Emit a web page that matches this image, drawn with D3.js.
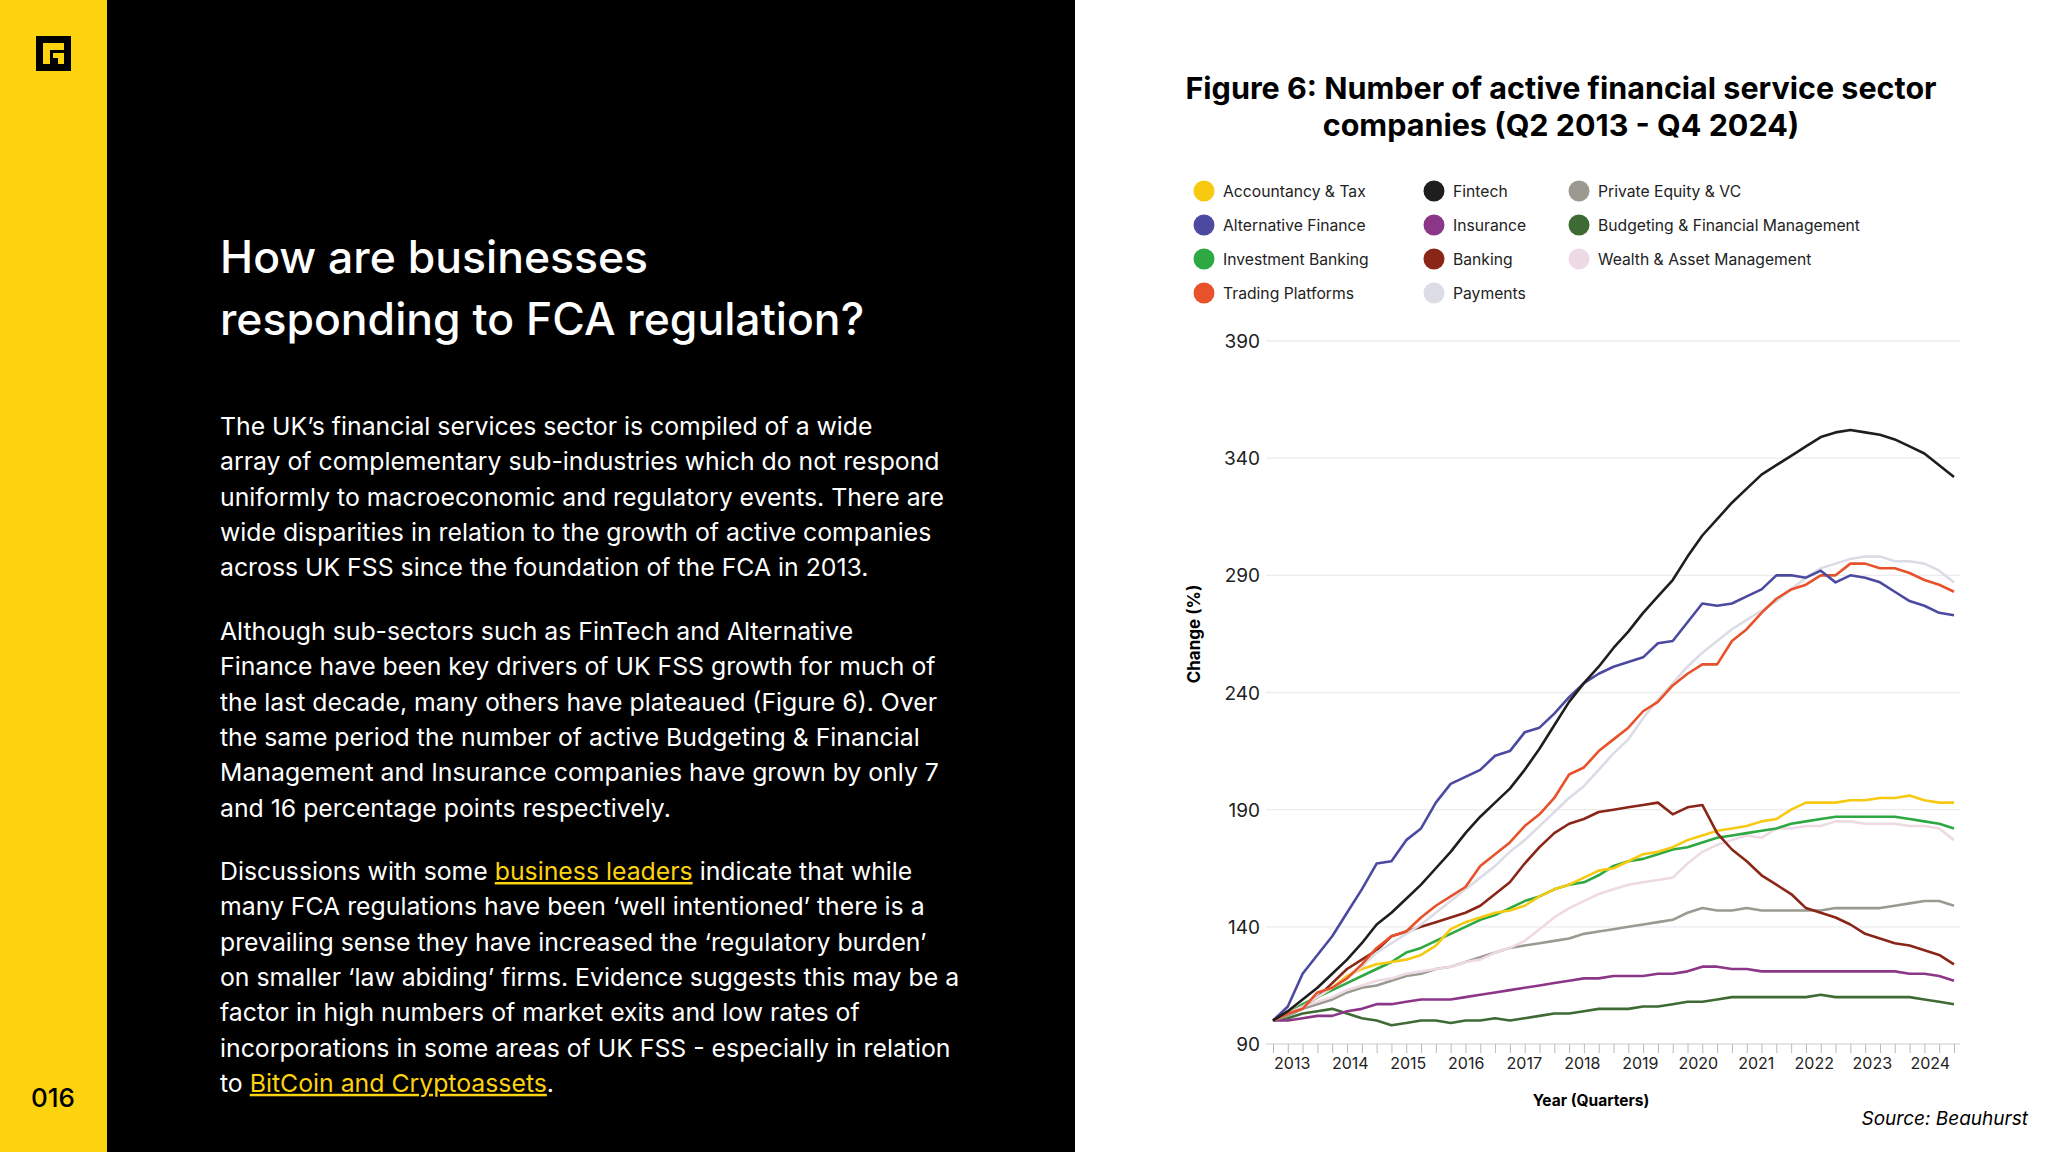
<!DOCTYPE html>
<html><head><meta charset="utf-8">
<script src="https://cdn.jsdelivr.net/npm/d3@7"></script>
<style>body{margin:0;background:#fff;font-family:Inter,"Noto Sans",sans-serif}</style>
</head><body>
<svg id="c" width="2048" height="1152"></svg>
<script>
const years=[2013,2014,2015,2016,2017,2018,2019,2020,2021,2022,2023,2024];
const yTicks=[90,140,190,240,290,340,390];
const accountancy=[100,103,106,110,114,119,122,124,125,126,128,132,139,142,144,146,147,149,153,156,158,161,164,165,168,171,172,174,177,179,181,182,183,185,186,190,193,193,193,194,194,195,195,196,194,193,193];
const altFinance=[100,106,120,128,136,146,156,167,168,177,182,193,201,204,207,213,215,223,225,231,238,244,248,251,253,255,261,262,270,278,277,278,281,284,290,290,289,292,287,290,289,287,283,279,277,274,273];
const investment=[100,103,107,110,113,116,119,122,125,129,131,134,137,140,143,145,148,151,153,156,158,159,162,166,168,169,171,173,174,176,178,179,180,181,182,184,185,186,187,187,187,187,187,186,185,184,182];
const trading=[100,103,105,112,114,118,124,131,136,138,144,149,153,157,166,171,176,183,188,195,205,208,215,220,225,232,236,243,248,252,252,262,267,274,280,284,286,290,290,295,295,293,293,291,288,286,283];
const fintech=[100,104,109,114,120,126,133,141,146,152,158,165,172,180,187,193,199,207,216,226,236,244,251,259,266,274,281,288,298,307,314,321,327,333,337,341,345,349,351,352,351,350,348,345,342,337,332];
const insurance=[100,100,101,102,102,104,105,107,107,108,109,109,109,110,111,112,113,114,115,116,117,118,118,119,119,119,120,120,121,123,123,122,122,121,121,121,121,121,121,121,121,121,121,120,120,119,117];
const banking=[100,103,106,110,116,122,126,130,136,138,140,142,144,146,149,154,159,167,174,180,184,186,189,190,191,192,193,188,191,192,180,173,168,162,158,154,148,146,144,141,137,135,133,132,130,128,124];
const payments=[100,103,106,110,114,118,123,129,133,137,141,146,151,156,161,166,172,177,183,189,195,200,207,214,220,229,237,244,251,257,262,267,271,275,279,284,289,293,295,297,298,298,296,296,295,292,287];
const privateEquity=[100,102,105,107,109,112,114,115,117,119,120,122,123,125,127,129,131,132,133,134,135,137,138,139,140,141,142,143,146,148,147,147,148,147,147,147,147,147,148,148,148,148,149,150,151,151,149];
const budgeting=[100,101,103,104,105,103,101,100,98,99,100,100,99,100,100,101,100,101,102,103,103,104,105,105,105,106,106,107,108,108,109,110,110,110,110,110,110,111,110,110,110,110,110,110,109,108,107];
const wealth=[100,103,106,108,110,113,115,117,118,120,121,122,123,125,126,129,131,134,139,144,148,151,154,156,158,159,160,161,167,172,175,177,179,178,182,182,183,183,185,185,184,184,184,183,183,182,177];

const series=[
 {name:"Accountancy & Tax",color:"#f7c910",v:accountancy,col:0,row:0},
 {name:"Alternative Finance",color:"#4b4aa0",v:altFinance,col:0,row:1},
 {name:"Investment Banking",color:"#2ea843",v:investment,col:0,row:2},
 {name:"Trading Platforms",color:"#e8522a",v:trading,col:0,row:3},
 {name:"Fintech",color:"#1e1e1e",v:fintech,col:1,row:0},
 {name:"Insurance",color:"#8c3688",v:insurance,col:1,row:1},
 {name:"Banking",color:"#8a2617",v:banking,col:1,row:2},
 {name:"Payments",color:"#dcdce6",v:payments,col:1,row:3},
 {name:"Private Equity & VC",color:"#9a9a90",v:privateEquity,col:2,row:0},
 {name:"Budgeting & Financial Management",color:"#3e6a34",v:budgeting,col:2,row:1},
 {name:"Wealth & Asset Management",color:"#eedae4",v:wealth,col:2,row:2}
];
const drawOrder=["Budgeting & Financial Management","Insurance","Private Equity & VC","Wealth & Asset Management","Investment Banking","Accountancy & Tax","Banking","Payments","Trading Platforms","Alternative Finance","Fintech"];

const svg=d3.select("#c");
svg.append("rect").attr("x",0).attr("y",0).attr("width",107).attr("height",1152).attr("fill","#fdd20e");
svg.append("rect").attr("x",107).attr("y",0).attr("width",968).attr("height",1152).attr("fill","#000");
const lg=svg.append("g").attr("transform","translate(36,36)");
lg.append("rect").attr("width",35).attr("height",35).attr("fill","#000");
lg.append("path").attr("d","M7 7H28V14H14V28H7Z M17 17H28V28H22V22H17Z").attr("fill","#fdd20e");
svg.append("text").attr("x",31).attr("y",1107).attr("font-size",26).attr("fill","#000").attr("font-weight",500).text("016");

const hd=svg.append("text").attr("fill","#fff").attr("font-size",44.5).attr("font-weight",500);
hd.append("tspan").attr("x",220).attr("y",273).text("How are businesses");
hd.append("tspan").attr("x",220).attr("y",335).text("responding to FCA regulation?");

const paras=[
 [435,["The UK’s financial services sector is compiled of a wide","array of complementary sub-industries which do not respond","uniformly to macroeconomic and regulatory events. There are","wide disparities in relation to the growth of active companies","across UK FSS since the foundation of the FCA in 2013."]],
 [640,["Although sub-sectors such as FinTech and Alternative","Finance have been key drivers of UK FSS growth for much of","the last decade, many others have plateaued (Figure 6). Over","the same period the number of active Budgeting & Financial","Management and Insurance companies have grown by only 7","and 16 percentage points respectively."]]
];
paras.forEach(([y0,lines])=>{
  lines.forEach((l,i)=>svg.append("text").attr("x",220).attr("y",y0+i*35.3).attr("fill","#fff").attr("font-size",24.8).text(l));
});
const p3y=880;
const p3=[
 [["Discussions with some ",null],["business leaders","link"],[" indicate that while",null]],
 [["many FCA regulations have been ‘well intentioned’ there is a",null]],
 [["prevailing sense they have increased the ‘regulatory burden’",null]],
 [["on smaller ‘law abiding’ firms. Evidence suggests this may be a",null]],
 [["factor in high numbers of market exits and low rates of",null]],
 [["incorporations in some areas of UK FSS - especially in relation",null]],
 [["to ",null],["BitCoin and Cryptoassets","link"],[".",null]]
];
p3.forEach((segs,i)=>{
  const t=svg.append("text").attr("x",220).attr("y",p3y+i*35.3).attr("fill","#fff").attr("font-size",24.8);
  segs.forEach(([s,k])=>{const ts=t.append("tspan").text(s); if(k){ts.attr("fill","#fdd20e").attr("text-decoration","underline");}});
});

const tt=svg.append("text").attr("text-anchor","middle").attr("font-size",30.5).attr("font-weight",700).attr("fill","#000");
tt.append("tspan").attr("x",1561).attr("y",99).text("Figure 6: Number of active financial service sector");
tt.append("tspan").attr("x",1561).attr("y",136).text("companies (Q2 2013 - Q4 2024)");

const colX=[1204,1434,1579], rowY=[191,225,259,293];
series.forEach(s=>{
  const g=svg.append("g").attr("transform",`translate(${colX[s.col]},${rowY[s.row]})`);
  g.append("circle").attr("r",10.5).attr("fill",s.color);
  g.append("text").attr("x",19).attr("y",6).attr("font-size",15.7).attr("fill","#222").text(s.name);
});

const n=accountancy.length;
const x=d3.scaleLinear().domain([0,n-1]).range([1273,1954]);
const y=d3.scaleLinear().domain([90,390]).range([1044,341]);
const xYear=d3.scaleLinear().domain([2013,2024]).range([x(1.3),x(44.4)]);
svg.append("g").selectAll("line").data(yTicks).join("line")
 .attr("x1",1266).attr("x2",1960).attr("y1",d=>y(d)).attr("y2",d=>y(d))
 .attr("stroke",d=>d===90?"#ddd":"#ececec").attr("stroke-width",1.3);
svg.append("g").selectAll("text").data(yTicks).join("text")
 .attr("x",1260).attr("y",d=>y(d)+7).attr("text-anchor","end").attr("font-size",19).attr("fill","#222").text(d=>d);
const xa=d3.axisBottom(x).tickValues(d3.range(n)).tickSize(9).tickFormat("");
const gx=svg.append("g").attr("transform","translate(0,1044)").call(xa);
gx.select(".domain").remove();
gx.selectAll("line").attr("stroke","#bbb");
svg.append("g").selectAll("text").data(years).join("text")
 .attr("x",d=>xYear(d)).attr("y",1069).attr("text-anchor","middle").attr("font-size",16).attr("fill","#222").text(d=>d);

const line=d3.line().x((d,i)=>x(i)).y(d=>y(d));
drawOrder.forEach(nm=>{
  const s=series.find(q=>q.name===nm);
  svg.append("path").attr("d",line(s.v)).attr("fill","none").attr("stroke",s.color).attr("stroke-width",2.6).attr("stroke-linejoin","round");
});

svg.append("text").attr("transform","translate(1200,634) rotate(-90)").attr("text-anchor","middle").attr("font-size",17).attr("font-weight",700).text("Change (%)");
svg.append("text").attr("x",1591).attr("y",1106).attr("text-anchor","middle").attr("font-size",15.5).attr("font-weight",700).text("Year (Quarters)");
svg.append("text").attr("x",2028).attr("y",1125).attr("text-anchor","end").attr("font-size",19).attr("font-style","italic").text("Source: Beauhurst");
</script>
</body></html>
